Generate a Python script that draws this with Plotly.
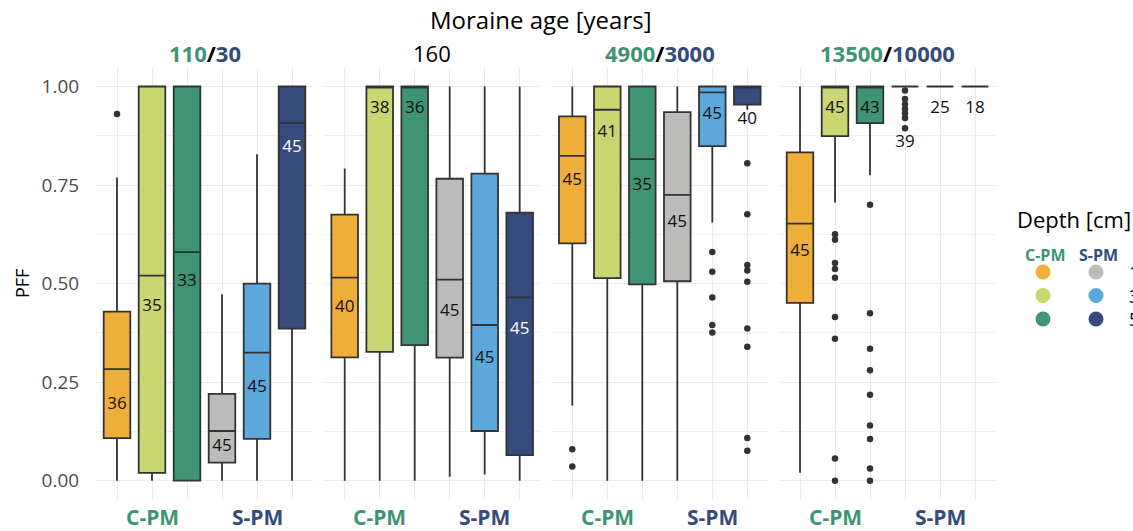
import plotly.graph_objects as go

# ---- data -------------------------------------------------------------
facet_labels = ["110/30", "160", "4900/3000", "13500/10000"]
facet_c_age = ["110", None, "4900", "13500"]
facet_s_age = ["30", None, "3000", "10000"]

groups = ["C-PM 10", "C-PM 30", "C-PM 50", "S-PM 10", "S-PM 30", "S-PM 50"]
group_pos = [0, 1, 2, 3, 4, 5]

lower_fence = [
    [0.000, 0.000, 0.000, 0.000, 0.000, 0.000],
    [0.000, 0.000, 0.000, 0.010, 0.016, 0.000],
    [0.191, 0.000, 0.000, 0.000, 0.655, 0.941],
    [0.020, 0.706, 0.775, 1.000, 1.000, 1.000],
]
q1 = [
    [0.108, 0.020, 0.000, 0.046, 0.106, 0.386],
    [0.313, 0.327, 0.344, 0.312, 0.126, 0.065],
    [0.602, 0.514, 0.498, 0.506, 0.849, 0.954],
    [0.451, 0.874, 0.907, 1.000, 1.000, 1.000],
]
median = [
    [0.283, 0.520, 0.580, 0.126, 0.325, 0.907],
    [0.515, 1.000, 1.000, 0.510, 0.395, 0.465],
    [0.824, 0.941, 0.816, 0.725, 0.985, 1.000],
    [0.652, 1.000, 1.000, 1.000, 1.000, 1.000],
]
q3 = [
    [0.429, 1.000, 1.000, 0.220, 0.500, 1.000],
    [0.675, 1.000, 1.000, 0.766, 0.779, 0.680],
    [0.924, 1.000, 1.000, 0.935, 1.000, 1.000],
    [0.833, 1.000, 1.000, 1.000, 1.000, 1.000],
]
upper_fence = [
    [0.769, 1.000, 1.000, 0.473, 0.828, 1.000],
    [0.792, 1.000, 1.000, 1.000, 1.000, 1.000],
    [1.000, 1.000, 1.000, 1.000, 1.000, 1.000],
    [1.000, 1.000, 1.000, 1.000, 1.000, 1.000],
]
n_obs = [
    [36, 35, 33, 45, 45, 45],
    [40, 38, 36, 45, 45, 45],
    [45, 41, 35, 45, 45, 40],
    [45, 45, 43, 39, 25, 18],
]
n_label_y = [
    [0.192, 0.440, 0.505, 0.085, 0.235, 0.845],
    [0.438, 0.943, 0.943, 0.429, 0.309, 0.382],
    [0.761, 0.882, 0.749, 0.655, 0.928, 0.915],
    [0.580, 0.943, 0.943, 0.858, 0.943, 0.943],
]
outliers = [
    [[0.930], [], [], [], [], []],
    [[], [], [], [], [], []],
    [[0.080, 0.036], [], [], [],
     [0.580, 0.530, 0.465, 0.395, 0.376],
     [0.805, 0.676, 0.547, 0.533, 0.505, 0.386, 0.340, 0.108, 0.076]],
    [[],
     [0.625, 0.611, 0.552, 0.537, 0.515, 0.415, 0.360, 0.056, 0.000],
     [0.700, 0.425, 0.335, 0.280, 0.218, 0.140, 0.106, 0.031, 0.000],
     [0.990, 0.968, 0.955, 0.943, 0.932, 0.920, 0.894],
     [], []],
]

y_ticks = [0.0, 0.25, 0.5, 0.75, 1.0]
y_ticktext = ["0.00", "0.25", "0.50", "0.75", "1.00"]
depths = ["10", "30", "50"]

# ---- styling ----------------------------------------------------------
W, H = 1133, 531
FONT = "Open Sans"
fills = ["#EFAE3A", "#CAD672", "#3F9473", "#BBBBBA", "#5CA8DC", "#344B7B"]
label_colors = ["#111111"] * 5 + ["#FFFFFF"]
C_COL = "#3E9474"
S_COL = "#344B7B"
EDGE = "#333333"
GRID = "#EBEBEB"

panel_left = [96, 323.7, 551.3, 779]
panel_w = 217
y_top_px, y_bot_px = 66.8, 500.4


def px(x):
    return x / W


def py(y):
    return 1 - y / H


fig = go.Figure()

for f in range(4):
    ax = "" if f == 0 else str(f + 1)
    for g in range(6):
        fig.add_trace(go.Box(
            x=[group_pos[g]],
            q1=[q1[f][g]], median=[median[f][g]], q3=[q3[f][g]],
            lowerfence=[lower_fence[f][g]], upperfence=[upper_fence[f][g]],
            width=0.76, whiskerwidth=0, boxpoints=False,
            fillcolor=fills[g], line=dict(color=EDGE, width=1.8),
            xaxis="x" + ax, yaxis="y" + ax, showlegend=False, hoverinfo="skip",
        ))
    ox, oy = [], []
    for g in range(6):
        for v in outliers[f][g]:
            ox.append(group_pos[g])
            oy.append(v)
    if ox:
        fig.add_trace(go.Scatter(
            x=ox, y=oy, mode="markers",
            marker=dict(size=6.5, color=EDGE),
            xaxis="x" + ax, yaxis="y" + ax, showlegend=False, hoverinfo="skip",
        ))
    tcols = list(label_colors)
    if f >= 2:
        tcols = ["#111111"] * 6
    fig.add_trace(go.Scatter(
        x=group_pos, y=n_label_y[f], text=[str(n) for n in n_obs[f]],
        mode="text", textposition="middle center",
        textfont=dict(family=FONT, size=17, color=tcols),
        xaxis="x" + ax, yaxis="y" + ax, showlegend=False, hoverinfo="skip",
    ))

layout = dict(
    width=W, height=H,
    margin=dict(l=0, r=0, t=0, b=0),
    paper_bgcolor="white", plot_bgcolor="white",
    font=dict(family=FONT, color="#000000"),
    boxmode="overlay",
    showlegend=False,
)
yd = [py(y_bot_px), py(y_top_px)]
for f in range(4):
    ax = "" if f == 0 else str(f + 1)
    l = panel_left[f]
    layout["xaxis" + ax] = dict(
        domain=[px(l), px(l + panel_w)], range=[-0.6, 5.6],
        tickvals=group_pos, showticklabels=False, ticks="",
        showgrid=True, gridcolor=GRID, gridwidth=1.3, zeroline=False,
        showline=False, anchor="y" + ax, fixedrange=True,
    )
    layout["yaxis" + ax] = dict(
        domain=yd, range=[-0.05, 1.05], anchor="x" + ax,
        tickvals=y_ticks, ticktext=y_ticktext, showticklabels=(f == 0),
        ticks="outside" if f == 0 else "", ticklen=12,
        tickcolor="rgba(0,0,0,0)",
        tickfont=dict(family=FONT, size=19, color="#4D4D4D"),
        showgrid=True, gridcolor=GRID, gridwidth=1.3, zeroline=False,
        showline=False,
        minor=dict(tickvals=[0.125, 0.375, 0.625, 0.875], showgrid=True,
                   gridcolor="#F1F1F1", gridwidth=0.8, ticks=""),
        fixedrange=True,
    )

ann = []
ann.append(dict(text="Moraine age [years]", x=px(541), y=py(20),
                xref="paper", yref="paper", showarrow=False,
                font=dict(family=FONT, size=24, color="#000000"),
                xanchor="center", yanchor="middle"))
for f in range(4):
    cx = panel_left[f] + panel_w / 2
    if facet_c_age[f] is None:
        txt = facet_labels[f]
    else:
        txt = ("<b><span style='color:%s'>%s</span>/<span style='color:%s'>%s</span></b>"
               % (C_COL, facet_c_age[f], S_COL, facet_s_age[f]))
    ann.append(dict(text=txt, x=px(cx), y=py(53), xref="paper", yref="paper",
                    showarrow=False, font=dict(family=FONT, size=22, color="#000000"),
                    xanchor="center", yanchor="middle"))
    ax = "" if f == 0 else str(f + 1)
    ann.append(dict(text="<b>C-PM</b>", x=1, y=py(517), xref="x" + ax, yref="paper",
                    showarrow=False, font=dict(family=FONT, size=21, color=C_COL),
                    xanchor="center", yanchor="middle"))
    ann.append(dict(text="<b>S-PM</b>", x=4, y=py(517), xref="x" + ax, yref="paper",
                    showarrow=False, font=dict(family=FONT, size=21, color=S_COL),
                    xanchor="center", yanchor="middle"))
ann.append(dict(text="PFF", x=px(22), y=py(283), xref="paper", yref="paper",
                showarrow=False, textangle=-90,
                font=dict(family=FONT, size=18, color="#000000"),
                xanchor="center", yanchor="middle"))

# legend block
ann.append(dict(text="Depth [cm]", x=px(1015), y=py(219), xref="paper", yref="paper",
                showarrow=False, font=dict(family=FONT, size=22, color="#000000"),
                xanchor="left", yanchor="middle"))
ann.append(dict(text="<b>C-PM</b>", x=px(1045), y=py(255), xref="paper", yref="paper",
                showarrow=False, font=dict(family=FONT, size=16, color=C_COL),
                xanchor="center", yanchor="middle"))
ann.append(dict(text="<b>S-PM</b>", x=px(1098), y=py(255), xref="paper", yref="paper",
                showarrow=False, font=dict(family=FONT, size=16, color=S_COL),
                xanchor="center", yanchor="middle"))
shapes = []
row_y = [272, 295.5, 319]
for r in range(3):
    for c, cxp in enumerate([1043, 1096]):
        shapes.append(dict(type="circle", xref="paper", yref="paper",
                           xsizemode="pixel", ysizemode="pixel",
                           xanchor=px(cxp), yanchor=py(row_y[r]),
                           x0=-7.5, x1=7.5, y0=-7.5, y1=7.5,
                           fillcolor=fills[c * 3 + r], line=dict(width=0)))
    ann.append(dict(text=depths[r], x=px(1127), y=py(row_y[r]), xref="paper",
                    yref="paper", showarrow=False,
                    font=dict(family=FONT, size=18, color="#000000"),
                    xanchor="left", yanchor="middle"))

layout["annotations"] = ann
layout["shapes"] = shapes
fig.update_layout(**layout)
fig.write_html("out.html")
